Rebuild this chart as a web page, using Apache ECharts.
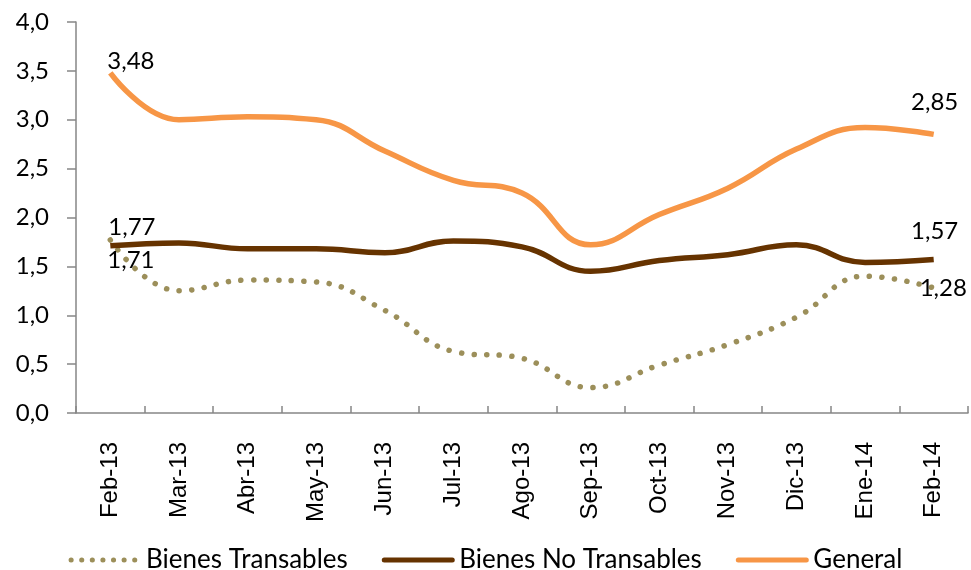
<!DOCTYPE html>
<html>
<head>
<meta charset="utf-8">
<script src="https://cdn.jsdelivr.net/npm/echarts@6/dist/echarts.min.js"></script>
<style>html,body{margin:0;padding:0;background:#fff;}#c{width:971px;height:570px;}</style>
</head>
<body>
<div id="c"></div>
<script>
var categories = ['Feb-13','Mar-13','Abr-13','May-13','Jun-13','Jul-13','Ago-13','Sep-13','Oct-13','Nov-13','Dic-13','Ene-14','Feb-14'];
var transables = [1.77, 1.25, 1.36, 1.34, 1.05, 0.63, 0.56, 0.26, 0.49, 0.70, 0.98, 1.40, 1.28];
var noTransables = [1.71, 1.74, 1.68, 1.68, 1.64, 1.76, 1.70, 1.45, 1.56, 1.62, 1.72, 1.54, 1.57];
var general = [3.48, 3.00, 3.03, 3.00, 2.68, 2.38, 2.25, 1.72, 2.03, 2.30, 2.70, 2.92, 2.85];
var seriesNames = ['Bienes Transables', 'Bienes No Transables', 'General'];

var FONT = 'Lato';
var XFONT = 'Liberation Sans';
function fmt(v){ return v.toFixed(2).replace('.', ','); }
function lbl(pos, align){
  return {show: true, position: pos, align: align, verticalAlign: 'middle',
    color: '#000', fontSize: 24, fontFamily: FONT,
    formatter: function(p){ return fmt(p.value); }};
}
function withLabels(arr, firstLabel, lastLabel){
  return arr.map(function(v, i){
    if (i === 0) return {value: v, label: firstLabel};
    if (i === arr.length - 1) return {value: v, label: lastLabel};
    return v;
  });
}

var chart = echarts.init(document.getElementById('c'));
chart.setOption({
  animation: false,
  textStyle: {fontFamily: FONT},
  grid: {left: 76, right: 3, top: 22, bottom: 157},
  legend: {
    top: 542, left: 'center', itemWidth: 68, itemHeight: 2, itemGap: 34,
    textStyle: {fontSize: 26, color: '#000', fontFamily: FONT, padding: [0, 0, 0, 2]},
    itemStyle: {opacity: 0},
    data: [
      {name: seriesNames[0], lineStyle: {width: 5, type: [0.1, 10.5], cap: 'round', color: '#9c8f5a'}},
      {name: seriesNames[1], lineStyle: {width: 5, cap: 'round', color: '#663300'}},
      {name: seriesNames[2], lineStyle: {width: 5, cap: 'round', color: '#f79646'}}
    ]
  },
  xAxis: {
    type: 'category', data: categories, boundaryGap: true,
    axisLine: {lineStyle: {color: '#868686', width: 1.5}},
    axisTick: {show: true, inside: true, interval: 0, length: 7, lineStyle: {color: '#868686', width: 1.5}},
    axisLabel: {rotate: 90, interval: 0, fontSize: 24, color: '#000', fontFamily: XFONT, margin: 29}
  },
  yAxis: {
    type: 'value', min: 0, max: 4, interval: 0.5,
    axisLine: {show: true, lineStyle: {color: '#868686', width: 1.5}},
    axisTick: {show: true, length: 9, lineStyle: {color: '#868686', width: 1.5}},
    splitLine: {show: false},
    axisLabel: {fontSize: 24, color: '#000', fontFamily: FONT, margin: 27,
      formatter: function(v){ return v.toFixed(1).replace('.', ','); }}
  },
  series: [
    {
      name: seriesNames[0], type: 'line', smooth: 0.45, symbol: 'circle', symbolSize: 0.01, showSymbol: true,
      data: withLabels(transables, lbl([-2, -13], 'left'), lbl([-14, 0], 'left')),
      lineStyle: {color: '#9c8f5a', width: 5.5, type: [0.1, 12.5], cap: 'round'},
      itemStyle: {color: '#9c8f5a'}, z: 2
    },
    {
      name: seriesNames[1], type: 'line', smooth: 0.45, symbol: 'circle', symbolSize: 0.01, showSymbol: true,
      data: withLabels(noTransables, lbl([-3, 14], 'left'), lbl([1, -28], 'center')),
      lineStyle: {color: '#663300', width: 5.5},
      itemStyle: {color: '#663300'}, z: 3
    },
    {
      name: seriesNames[2], type: 'line', smooth: 0.45, symbol: 'circle', symbolSize: 0.01, showSymbol: true,
      data: withLabels(general, lbl([-3, -12], 'left'), lbl([1, -32], 'center')),
      lineStyle: {color: '#f79646', width: 5.5},
      itemStyle: {color: '#f79646'}, z: 4
    }
  ]
});
</script>
</body>
</html>
